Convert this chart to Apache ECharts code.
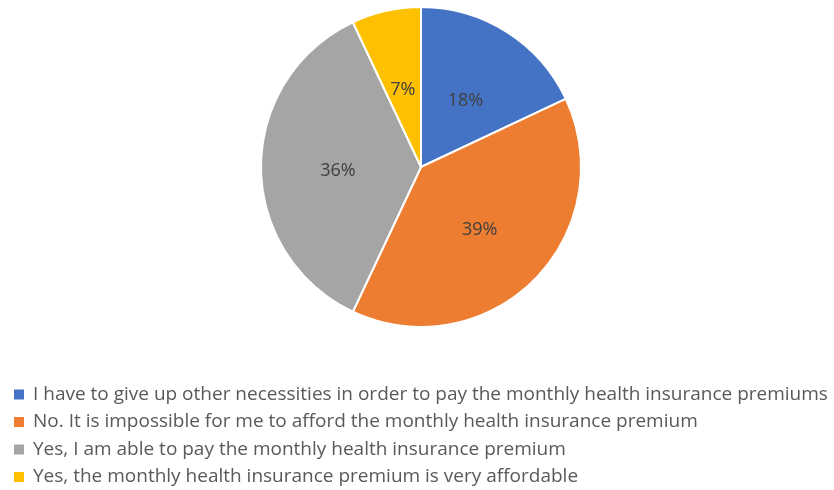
<!DOCTYPE html>
<html><head><meta charset="utf-8">
<script src="https://cdn.jsdelivr.net/npm/echarts@6/dist/echarts.min.js"></script>
<style>html,body{margin:0;padding:0;background:#fff}#c{width:834px;height:490px}</style>
</head><body><div id="c"></div>
<script>
const categories = [
  "I have to give up other necessities in order to pay the monthly health insurance premiums",
  "No. It is impossible for me to afford the monthly health insurance premium",
  "Yes, I am able to pay the monthly health insurance premium",
  "Yes, the monthly health insurance premium is very affordable"
];
const values = [18, 39, 36, 7];
const colors = ["#4472C4", "#ED7D31", "#A5A5A5", "#FFC000"];

const chart = echarts.init(document.getElementById('c'), null, {renderer: 'canvas'});
chart.setOption({
  animation: false,
  color: colors,
  legend: {
    orient: 'vertical',
    left: 12,
    top: 383.5,
    height: 120,
    icon: 'rect',
    itemWidth: 12,
    itemHeight: 12,
    itemGap: 5.5,
    padding: 0,
    data: categories,
    textStyle: {fontFamily: 'Open Sans', fontSize: 19, color: '#595959', lineHeight: 22, padding: [0, 0, 0, 3]}
  },
  series: [{
    type: 'pie',
    center: [421, 167],
    radius: [0, 160],
    startAngle: 90,
    clockwise: true,
    itemStyle: {borderColor: '#fff', borderWidth: 2},
    label: {
      position: 'inside',
      formatter: '{c}%',
      fontFamily: 'Open Sans',
      fontSize: 18,
      color: '#404040',
      offset: [0, 4]
    },
    labelLine: {show: false},
    emphasis: {disabled: true},
    data: categories.map((n, i) => ({name: n, value: values[i]}))
  }]
});
</script></body></html>
